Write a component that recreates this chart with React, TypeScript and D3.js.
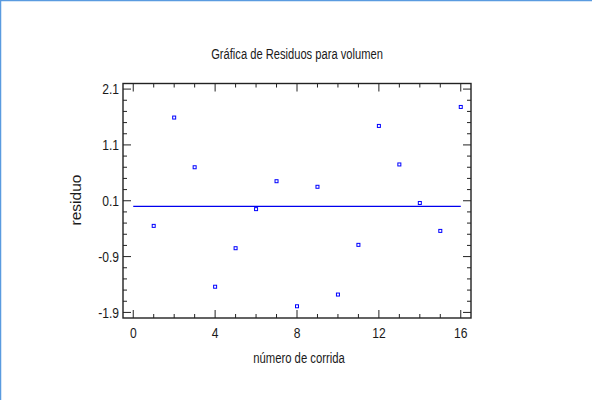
import React from 'react';
import * as d3 from 'd3';

const runs = [1, 2, 3, 4, 5, 6, 7, 8, 9, 10, 11, 12, 13, 14, 15, 16];
const residuals = [-0.35, 1.59, 0.7, -1.44, -0.75, -0.05, 0.45, -1.79, 0.35, -1.58, -0.69, 1.44, 0.75, 0.06, -0.44, 1.78];
const xTicks = [0, 4, 8, 12, 16];
const yTicks = [-1.9, -0.9, 0.1, 1.1, 2.1];
const title = 'Gráfica de Residuos para volumen';
const xTitle = 'número de corrida';
const yTitle = 'residuo';

const W = 592;
const H = 400;
const FONT = '"Liberation Sans", Arial, sans-serif';

// narrow text, the original is squeezed horizontally
const NText = ({ x, y, anchor = 'middle', size = 15, sx = 0.76, children }: any) => (
  <text
    transform={`translate(${x},${y}) scale(${sx},1)`}
    textAnchor={anchor}
    fontSize={size}
    fontFamily={FONT}
    fill="#1a1a1a"
  >
    {children}
  </text>
);

export default function App() {
  const left = 123;
  const right = 471;
  const top = 83.5;
  const bottom = 318;

  const x = d3.scaleLinear().domain([-0.5, 16.5]).range([left, right]);
  const y = d3.scaleLinear().domain([-2.0, 2.2]).range([bottom, top]);

  const xMinor = d3.range(0, 17, 1).filter((v) => v % 4 !== 0);
  const yMinor = d3.range(0, 21).map((i) => +(-1.9 + i * 0.2).toFixed(1)).filter((v) => !yTicks.includes(v));

  const major = 8;
  const minor = 4;

  return (
    <svg width={W} height={H} style={{ position: 'absolute', left: 0, top: 0, background: '#fff' }}>
      <line x1={0} y1={0.5} x2={W} y2={0.5} stroke="#5a9be0" strokeWidth={1.5} />
      <line x1={0.5} y1={0} x2={0.5} y2={H} stroke="#5a9be0" strokeWidth={1.5} />

      <NText x={297} y={59} size={15.5} sx={0.72}>{title}</NText>

      {/* ticks, all inside the frame */}
      <g stroke="#222" strokeWidth={1}>
        {xTicks.map((t) => (
          <g key={'xM' + t}>
            <line x1={x(t)} x2={x(t)} y1={bottom} y2={bottom - major} />
            <line x1={x(t)} x2={x(t)} y1={top} y2={top + major} />
          </g>
        ))}
        {xMinor.map((t) => (
          <g key={'xm' + t}>
            <line x1={x(t)} x2={x(t)} y1={bottom} y2={bottom - minor} />
            <line x1={x(t)} x2={x(t)} y1={top} y2={top + minor} />
          </g>
        ))}
        {yTicks.map((t) => (
          <g key={'yM' + t}>
            <line x1={left} x2={left + major} y1={y(t)} y2={y(t)} />
            <line x1={right} x2={right - major} y1={y(t)} y2={y(t)} />
          </g>
        ))}
        {yMinor.map((t) => (
          <g key={'ym' + t}>
            <line x1={left} x2={left + minor} y1={y(t)} y2={y(t)} />
            <line x1={right} x2={right - minor} y1={y(t)} y2={y(t)} />
          </g>
        ))}
      </g>

      <rect x={left} y={top} width={right - left} height={bottom - top} fill="none" stroke="#222" strokeWidth={1.4} />

      {xTicks.map((t) => (
        <NText key={'xl' + t} x={x(t)} y={337.5} size={15.5} sx={0.78}>{String(t)}</NText>
      ))}
      {yTicks.map((t) => (
        <NText key={'yl' + t} x={119} y={y(t) + 5.4} anchor="end" size={15.5} sx={0.78}>{t.toFixed(1)}</NText>
      ))}

      <NText x={299} y={363} size={15.5} sx={0.73}>{xTitle}</NText>
      <text
        transform={`translate(80.5,200) rotate(-90)`}
        textAnchor="middle"
        fontSize={15.5}
        fontFamily={FONT}
        fill="#1a1a1a"
      >
        {yTitle}
      </text>

      <line x1={x(0)} x2={x(16)} y1={y(0)} y2={y(0)} stroke="#0000ee" strokeWidth={1.3} />

      {runs.map((r, i) => (
        <rect
          key={'p' + r}
          x={x(r) - 1.5}
          y={y(residuals[i]) - 1.5}
          width={3}
          height={3}
          fill="#fff"
          stroke="#0000ff"
          strokeWidth={1}
        />
      ))}
    </svg>
  );
}
